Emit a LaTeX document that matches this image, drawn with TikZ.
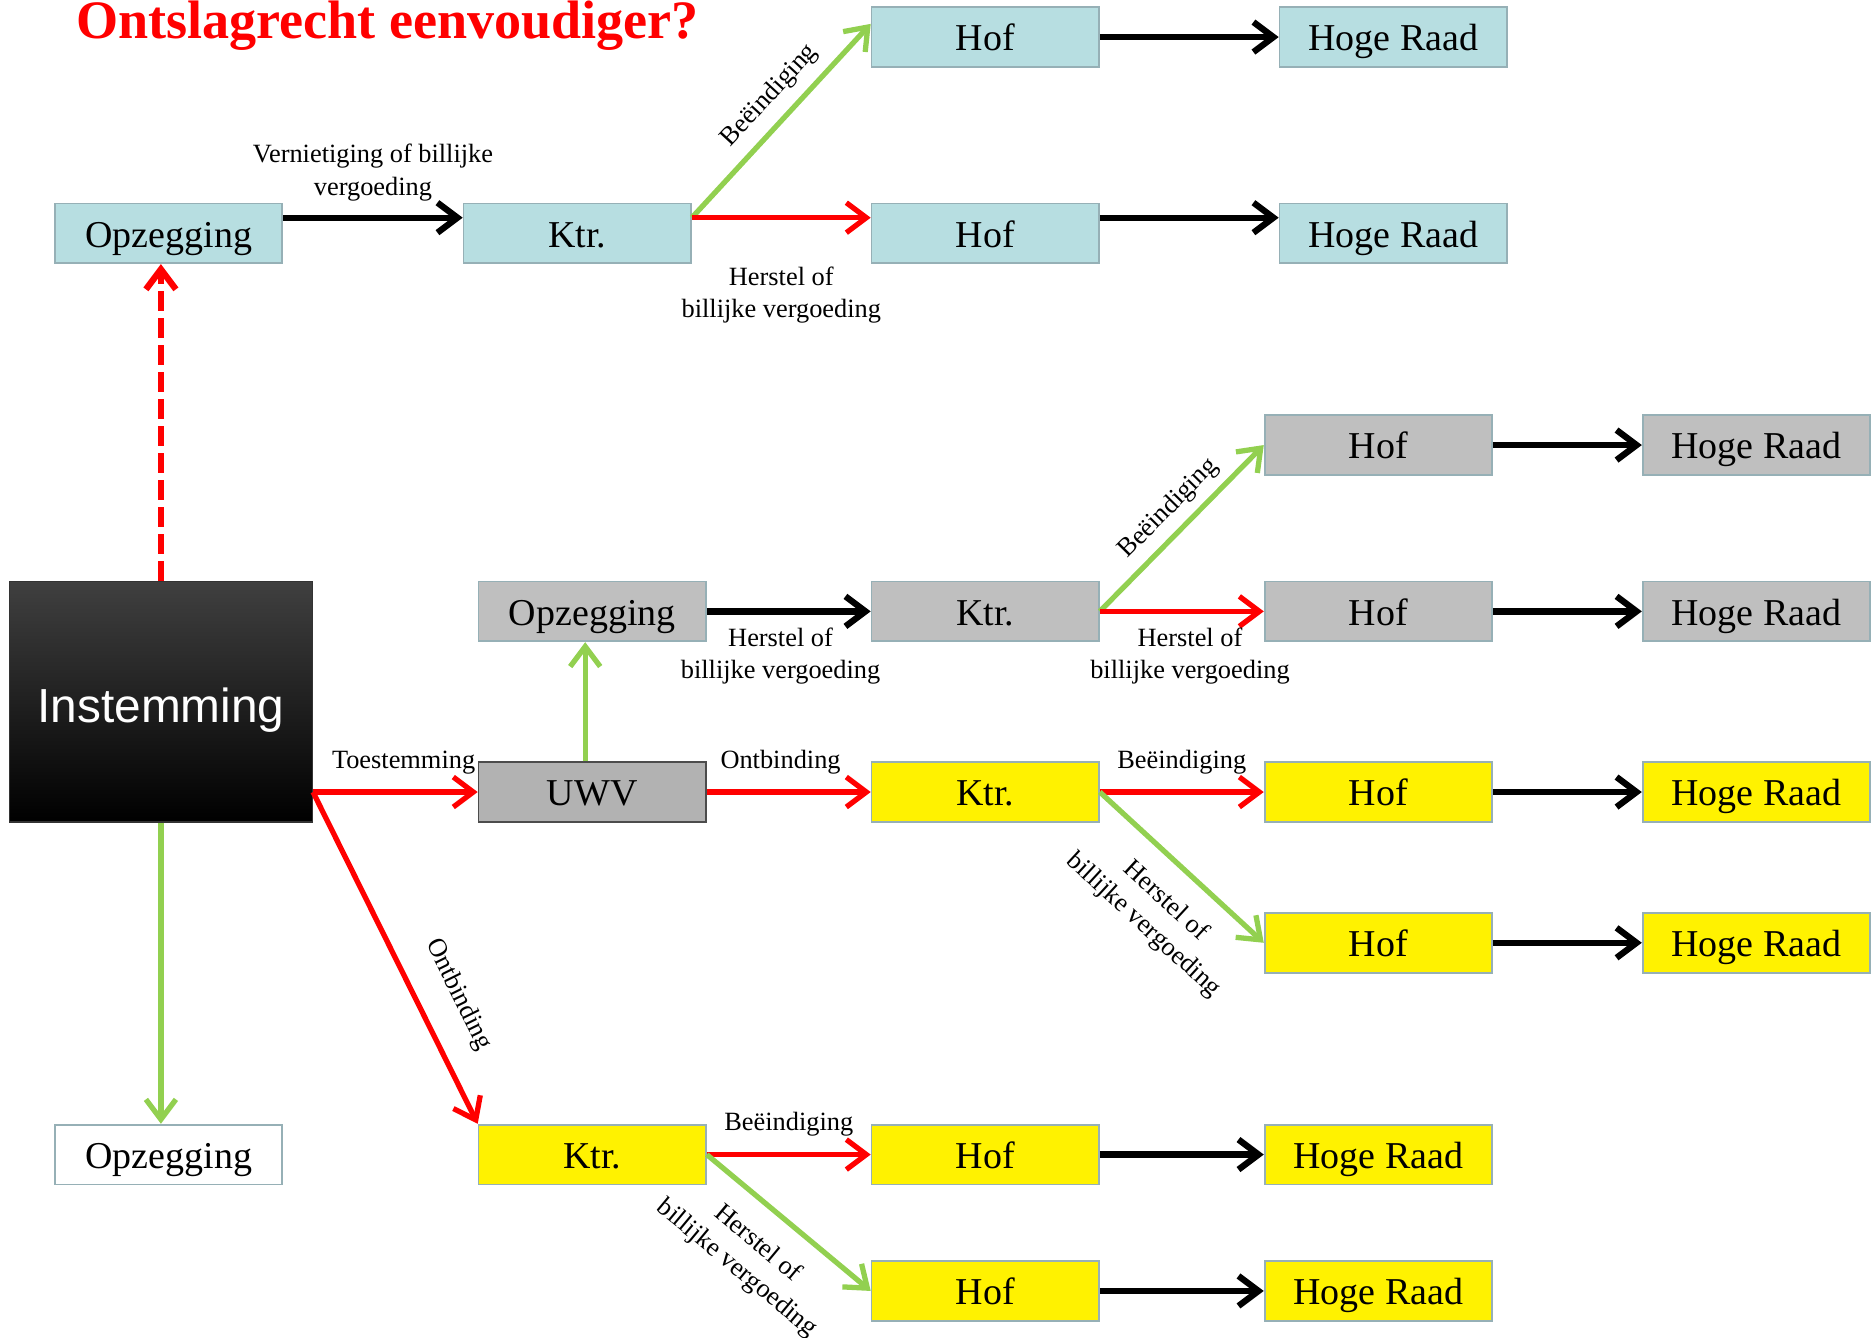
\documentclass[tikz,border=0pt]{standalone}
\usepackage{fontspec}
\setmainfont{Liberation Serif}
\newfontfamily\instfont{Liberation Sans}
\usepackage{xcolor}
\usepackage{tikz}
\usetikzlibrary{arrows.meta}

\definecolor{lichtblauw}{RGB}{183,222,225}
\definecolor{randkleur}{RGB}{150,176,182}
\definecolor{grijs}{RGB}{191,191,191}
\definecolor{uwvgrijs}{RGB}{178,178,178}
\definecolor{groen}{RGB}{146,208,80}

\begin{document}
\begin{tikzpicture}[x=0.011964cm, y=-0.011964cm,
    box/.style={draw=randkleur, line width=0.5pt, minimum width=2.273cm, minimum height=0.598cm,
        inner sep=0pt, text height=8.6pt, text depth=0.8pt, font=\fontsize{10.8}{13}\selectfont},
    blauw/.style={box, fill=lichtblauw},
    grijsbox/.style={box, fill=grijs},
    geel/.style={box, fill=yellow},
    pijl/.style={line width=1.5pt, -{Straight Barb[length=2mm, width=3mm]}},
    zwart/.style={pijl, black, line width=1.8pt},
    rood/.style={pijl, red},
    groenpijl/.style={pijl, groen},
    lbl/.style={font=\fontsize{7.5}{9.2}\selectfont, text=black, align=center, inner sep=1pt}]
        \useasboundingbox (0,0) rectangle (1568,1118);

        \node[anchor=base west, inner sep=0pt, text=red, font=\fontsize{15.4}{18}\selectfont\bfseries] (titel) at (63,32) {Ontslagrecht eenvoudiger?};

        % links
        \node[draw=black!80, minimum width=3.027cm, minimum height=2.405cm, top color=black!75, middle color=black,
            bottom color=black, text=white, text height=12pt, text depth=0.2pt,
            font=\instfont\fontsize{13.6}{16}\selectfont] (inst) at (134.5,586.5) {Instemming};
        \node[blauw] (opzA) at (141,195) {Opzegging};
        \node[box, fill=white] (opzW) at (141,965) {Opzegging};

        % bovenste tak
        \node[blauw] (ktrA) at (482.5,195) {Ktr.};
        \node[blauw] (hofA) at (823.5,31) {Hof};
        \node[blauw] (hrA) at (1164.5,31) {Hoge Raad};
        \node[blauw] (hofB) at (823.5,195) {Hof};
        \node[blauw] (hrB) at (1164.5,195) {Hoge Raad};

        % grijze tak
        \node[grijsbox] (opzG) at (495,511) {Opzegging};
        \node[grijsbox] (ktrG) at (823.5,511) {Ktr.};
        \node[grijsbox] (hofC) at (1152,372) {Hof};
        \node[grijsbox] (hrC) at (1468,372) {Hoge Raad};
        \node[grijsbox] (hofD) at (1152,511) {Hof};
        \node[grijsbox] (hrD) at (1468,511) {Hoge Raad};
        \node[box, fill=uwvgrijs, draw=black!70] (uwv) at (495,662) {UWV};

        % gele takken
        \node[geel] (ktrY) at (823.5,662) {Ktr.};
        \node[geel] (hofE) at (1152,662) {Hof};
        \node[geel] (hrE) at (1468,662) {Hoge Raad};
        \node[geel] (hofF) at (1152,788) {Hof};
        \node[geel] (hrF) at (1468,788) {Hoge Raad};
        \node[geel] (ktrZ) at (495,965) {Ktr.};
        \node[geel] (hofG) at (823.5,965) {Hof};
        \node[geel] (hrG) at (1152,965) {Hoge Raad};
        \node[geel] (hofH) at (823.5,1079) {Hof};
        \node[geel] (hrH) at (1152,1079) {Hoge Raad};

        % pijlen vanuit Instemming
        \draw[rood, line width=1.8pt, dash pattern=on 1.95mm off 0.75mm] (inst.north) -- (inst.north |- opzA.south);
        \draw[groenpijl] (inst.south) -- (inst.south |- opzW.north);
        \draw[rood] (inst.east |- uwv.west) -- node[lbl, above=1.2mm, pos=0.55] {Toestemming} (uwv.west);
        \draw[rood] (inst.east |- uwv.west) -- node[lbl, above=2.2mm, sloped, pos=0.665] {Ontbinding} (ktrZ.north west);

        % bovenste tak
        \draw[zwart] ([yshift=1.56mm]opzA.east) -- node[lbl, above=1.0mm] {Vernietiging of billijke\\vergoeding} ([yshift=1.56mm]ktrA.west);
        \draw[groenpijl] ([yshift=1.56mm]ktrA.east) -- node[lbl, above=0.75mm, sloped, pos=0.54] {Beëindiging} ([yshift=1.32mm]hofA.west);
        \draw[rood] ([yshift=1.56mm]ktrA.east) -- node[lbl, below=4.3mm] {Herstel of\\billijke vergoeding} ([yshift=1.56mm]hofB.west);
        \draw[zwart] (hofA.east) -- (hrA.west);
        \draw[zwart] ([yshift=1.56mm]hofB.east) -- ([yshift=1.56mm]hrB.west);

        % grijze tak
        \draw[groenpijl] ([xshift=-0.7mm]uwv.north) -- ([xshift=-0.7mm]opzG.south);
        \draw[zwart] (opzG.east) -- node[lbl, below=1.0mm, pos=0.45] {Herstel of\\billijke vergoeding} (ktrG.west);
        \draw[groenpijl] (ktrG.east) -- node[lbl, above=0.5mm, sloped, pos=0.52] {Beëindiging} (hofC.west);
        \draw[rood] (ktrG.east) -- node[lbl, below=1.0mm, pos=0.55] {Herstel of\\billijke vergoeding} (hofD.west);
        \draw[zwart] (hofC.east) -- (hrC.west);
        \draw[zwart] (hofD.east) -- (hrD.west);

        % gele takken
        \draw[rood] (uwv.east) -- node[lbl, above=1.2mm, pos=0.45] {Ontbinding} (ktrY.west);
        \draw[rood] (ktrY.east) -- node[lbl, above=1.2mm] {Beëindiging} (hofE.west);
        \draw[groenpijl] (ktrY.east) -- node[lbl, below=1.8mm, sloped, pos=0.55] {Herstel of\\billijke vergoeding} (hofF.west);
        \draw[zwart] (hofE.east) -- (hrE.west);
        \draw[zwart] (hofF.east) -- (hrF.west);
        \draw[rood] (ktrZ.east) -- node[lbl, above=1.2mm] {Beëindiging} (hofG.west);
        \draw[groenpijl] (ktrZ.east) -- node[lbl, below=1.8mm, sloped, pos=0.45] {Herstel of\\billijke vergoeding} (hofH.west);
        \draw[zwart] (hofG.east) -- (hrG.west);
        \draw[zwart] (hofH.east) -- (hrH.west);

    \end{tikzpicture}
\end{document}
